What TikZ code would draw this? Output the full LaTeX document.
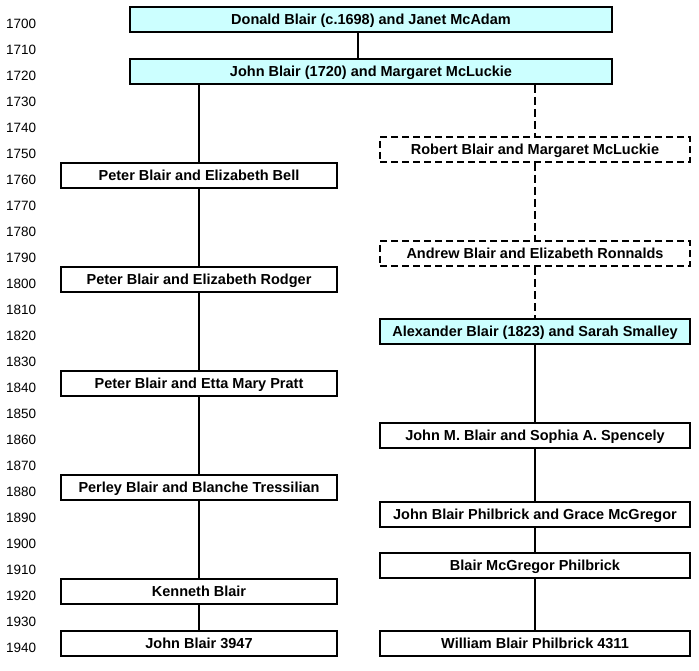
\documentclass[tikz,border=0pt]{standalone}
\usepackage{fontspec}
\setmainfont{Liberation Sans}
\definecolor{boxcyan}{HTML}{CCFFFF}
\tikzset{
  pbox/.style={draw=black, line width=2pt, fill=white, inner sep=0pt,
    font=\fontsize{14.5}{16}\selectfont\bfseries, minimum height=25pt,
    text height=10.4pt, text depth=0pt},
  cbox/.style={pbox, fill=boxcyan},
  dbox/.style={pbox, dash pattern=on 7pt off 4pt},
  lcol/.style={minimum width=276pt},
  rcol/.style={minimum width=310pt},
  conn/.style={line width=2pt},
  dconn/.style={line width=2pt, dash pattern=on 8pt off 4pt},
  year/.style={anchor=west, inner sep=0pt, font=\fontsize{13.5}{15}\selectfont,
    text height=9.7pt, text depth=0pt}
}
\begin{document}
\begin{tikzpicture}[x=1pt,y=-1pt]
\useasboundingbox (0,0) rectangle (699,671);
% year labels
\foreach \k in {0,...,24}{
  \pgfmathtruncatemacro{\yr}{1700+10*\k}
  \node[year] (y\k) at (6,{24+26*\k}) {\yr};
}
% boxes
\node[cbox, minimum width=482pt] (donald) at (371,19.5) {Donald Blair (c.1698) and Janet McAdam};
\node[cbox, minimum width=482pt] (john) at (371,71.5) {John Blair (1720) and Margaret McLuckie};
\node[dbox, rcol] (robert) at (535,149.5) {Robert Blair and Margaret McLuckie};
\node[pbox, lcol] (pbell) at (199,175.5) {Peter Blair and Elizabeth Bell};
\node[dbox, rcol] (andrew) at (535,253.5) {Andrew Blair and Elizabeth Ronnalds};
\node[pbox, lcol] (prodger) at (199,279.5) {Peter Blair and Elizabeth Rodger};
\node[cbox, rcol] (alex) at (535,331.5) {Alexander Blair (1823) and Sarah Smalley};
\node[pbox, lcol] (ppratt) at (199,383.5) {Peter Blair and Etta Mary Pratt};
\node[pbox, rcol] (johnm) at (535,435.5) {John M. Blair and Sophia A. Spencely};
\node[pbox, lcol] (perley) at (199,487.5) {Perley Blair and Blanche Tressilian};
\node[pbox, rcol] (jbp) at (535,514) {John Blair Philbrick and Grace McGregor};
\node[pbox, rcol] (bmp) at (535,565.5) {Blair McGregor Philbrick};
\node[pbox, lcol] (kenneth) at (199,591.5) {Kenneth Blair};
\node[pbox, lcol] (john3947) at (199,643.5) {John Blair 3947};
\node[pbox, rcol] (william) at (535,643.5) {William Blair Philbrick 4311};
% connectors
\draw[conn] ([xshift=-13pt]donald.south) -- ([xshift=-13pt]john.north);
\draw[conn] (pbell.north |- john.south) -- (pbell.north);
\draw[conn] (pbell) -- (prodger);
\draw[conn] (prodger) -- (ppratt);
\draw[conn] (ppratt) -- (perley);
\draw[conn] (perley) -- (kenneth);
\draw[conn] (kenneth) -- (john3947);
\draw[dconn] (robert.north |- john.south) -- (robert.north);
\draw[dconn] (robert.south) -- (andrew.north);
\draw[dconn] (andrew.south) -- (alex.north);
\draw[conn] (alex) -- (johnm);
\draw[conn] (johnm) -- (jbp);
\draw[conn] (jbp) -- (bmp);
\draw[conn] (bmp) -- (william);
\end{tikzpicture}
\end{document}
